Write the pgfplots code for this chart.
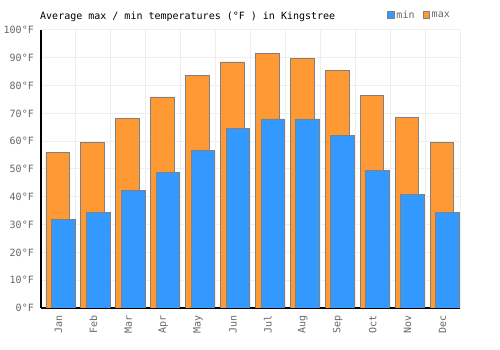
\documentclass[border=0pt]{standalone}
\usepackage{pgfplots}
\pgfplotsset{compat=1.18}
\usepackage{fontspec}
\setmainfont{DejaVu Sans Mono}
\definecolor{cmin}{HTML}{3399FF}
\definecolor{cmax}{HTML}{FF9933}
\definecolor{edge}{HTML}{808080}
\definecolor{gridc}{HTML}{EEEEEE}
\definecolor{lab}{HTML}{666666}
\begin{document}
\begin{tikzpicture}[x=1pt,y=1pt]
\useasboundingbox (0,0) rectangle (500,350);
\begin{axis}[
  at={(41pt,42pt)}, anchor=south west,
  scale only axis, width=419pt, height=278pt,
  xmin=-0.5, xmax=11.5, ymin=0, ymax=100,
  xtick={0,1,2,3,4,5,6,7,8,9,10,11},
  xticklabels={Jan,Feb,Mar,Apr,May,Jun,Jul,Aug,Sep,Oct,Nov,Dec},
  minor xtick={-0.5,0.5,1.5,2.5,3.5,4.5,5.5,6.5,7.5,8.5,9.5,10.5,11.5},
  ytick={0,10,20,30,40,50,60,70,80,90,100},
  yticklabel={\pgfmathprintnumber[assume math mode=true]{\tick}°F},
  ymajorgrids, xminorgrids,
  major grid style={gridc, line width=1pt},
  minor grid style={gridc, line width=1pt},
  axis x line*=bottom, axis y line*=left,
  axis line style={black, line width=1.2pt, -},
  major tick length=0pt, minor tick length=0pt,
  tick style={draw=none},
  xticklabel style={yshift=-7pt, rotate=90, anchor=east, inner sep=0pt, text=lab},
  yticklabel style={anchor=east, inner sep=0pt, xshift=-7pt, text=lab},
  legend style={at={(1,1)}, anchor=south east, xshift=-8pt, yshift=8pt,
    draw=none, fill=none, inner sep=0pt, text=lab,
    /tikz/every even column/.append style={column sep=6pt}},
  legend columns=-1,
  legend image code/.code={\draw[#1] (0pt,-3.3pt) rectangle (6.3pt,3.3pt);},
]
\addplot[ybar, bar width=23.7pt, bar shift=-0.65pt, fill=cmax, draw=edge, line width=0.9pt, forget plot]
  coordinates {(0,56.1) (1,59.7) (2,68.3) (3,75.9) (4,83.5) (5,88.5) (6,91.4) (7,89.9) (8,85.3) (9,76.6) (10,68.7) (11,59.7)};
\addplot[ybar, bar width=23.7pt, bar shift=4.85pt, fill=cmin, draw=edge, line width=0.9pt, forget plot]
  coordinates {(0,32.0) (1,34.5) (2,42.4) (3,48.9) (4,56.8) (5,64.7) (6,68.0) (7,68.0) (8,61.9) (9,49.6) (10,41.0) (11,34.5)};
\addlegendimage{fill=cmin, draw=edge, line width=0.9pt}
\addlegendentry{min}
\addlegendimage{fill=cmax, draw=edge, line width=0.9pt}
\addlegendentry{max}
\end{axis}
\node[anchor=base west, inner sep=0pt] at (40,330) {Average max / min temperatures (°F ) in Kingstree};
\end{tikzpicture}
\end{document}
